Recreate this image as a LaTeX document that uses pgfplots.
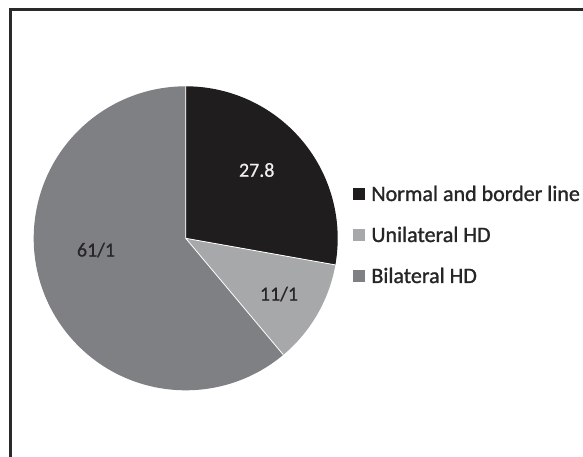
\documentclass[border=0pt]{standalone}
\usepackage{pgfplots}
\pgfplotsset{compat=1.18}
\usepackage{pgfplotstable}
\usepackage{fontspec}
\setmainfont{Carlito}
\newfontfamily\legfont[FakeBold=1.2]{Carlito}
\newfontfamily\labfont[FakeBold=0.6]{Carlito}

\definecolor{sliceA}{HTML}{1F1D1E}
\definecolor{sliceB}{HTML}{A7A8AA}
\definecolor{sliceC}{HTML}{7F8083}
\definecolor{framecol}{HTML}{2A2A2A}
\definecolor{labcol}{HTML}{262626}

% shares in percent, clockwise from 12 o'clock
\pgfplotstableread{
share
27.8
11.1
61.1
}\sharetable

\pgfplotstablegetelem{0}{share}\of\sharetable \pgfmathsetmacro\vA{\pgfplotsretval}
\pgfplotstablegetelem{1}{share}\of\sharetable \pgfmathsetmacro\vB{\pgfplotsretval}
\pgfplotstablegetelem{2}{share}\of\sharetable \pgfmathsetmacro\vC{\pgfplotsretval}
\pgfmathsetmacro\aA{90-3.6*\vA}
\pgfmathsetmacro\aB{\aA-3.6*\vB}
\pgfmathsetmacro\aC{\aB-3.6*\vC}

\begin{document}
\begin{tikzpicture}
\begin{axis}[
    x=1bp, y=1bp,
    xmin=0, xmax=583, ymin=0, ymax=457,
    axis lines=none,
    clip=false,
    legend style={draw=none, fill=none, inner sep=0pt, outer sep=0pt,
        at={(axis cs:353,222)}, anchor=west,
        font=\legfont\fontsize{22bp}{26bp}\selectfont,
        nodes={inner sep=0pt, text depth=0pt, text height=14bp, text=labcol},
        column sep=7bp, row sep=27bp},
    legend cell align=left,
]
% frame
\draw[framecol, line width=3bp] (axis cs:10.7,-20) -- (axis cs:10.7,447.5) -- (axis cs:620,447.5);

% slices
\fill[sliceA] (axis cs:185.7,218.7) -- ++(90:152bp) arc[start angle=90, end angle=\aA, radius=152bp] -- cycle;
\fill[sliceB] (axis cs:185.7,218.7) -- ++(\aA:152bp) arc[start angle=\aA, end angle=\aB, radius=152bp] -- cycle;
\fill[sliceC] (axis cs:185.7,218.7) -- ++(\aB:152bp) arc[start angle=\aB, end angle=\aC, radius=152bp] -- cycle;
\draw[white, line width=0.8bp] (axis cs:185.7,218.7) -- ++(90:152bp)
      (axis cs:185.7,218.7) -- ++(\aA:152bp)
      (axis cs:185.7,218.7) -- ++(\aB:152bp);

% data labels
\node[text=white!94!black, font=\labfont\fontsize{20bp}{24bp}\selectfont] at (axis cs:256.7,287) {27.8};
\node[text=labcol, font=\labfont\fontsize{20bp}{24bp}\selectfont] at (axis cs:279,163) {11/1};
\node[text=labcol, font=\labfont\fontsize{20bp}{24bp}\selectfont] at (axis cs:96,207) {61/1};

\addlegendimage{legend image code/.code={\fill[sliceA] (0bp,-5.5bp) rectangle (11bp,5.5bp);}}
\addlegendentry{Normal and border line}
\addlegendimage{legend image code/.code={\fill[sliceB] (0bp,-5.5bp) rectangle (11bp,5.5bp);}}
\addlegendentry{Unilateral HD}
\addlegendimage{legend image code/.code={\fill[sliceC] (0bp,-5.5bp) rectangle (11bp,5.5bp);}}
\addlegendentry{Bilateral HD}
\end{axis}
\pgfresetboundingbox
\useasboundingbox (current axis.south west) rectangle (current axis.north east);
\end{tikzpicture}
\end{document}
